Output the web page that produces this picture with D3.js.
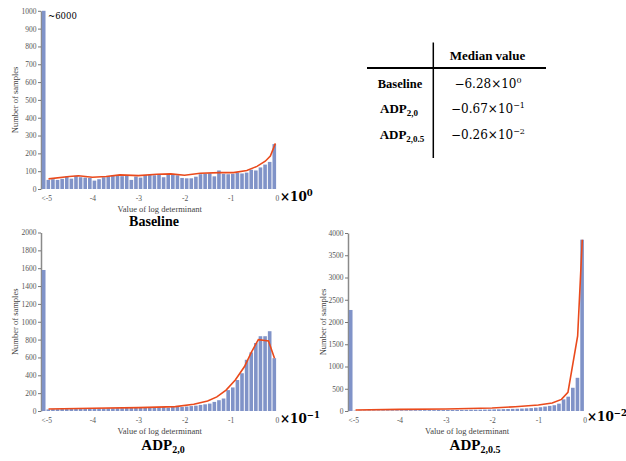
<!DOCTYPE html>
<html><head><meta charset="utf-8">
<script src="https://cdn.jsdelivr.net/npm/d3@7"></script>
<style>body{margin:0;background:#fff}svg{display:block}</style>
</head><body><svg id="c" width="626" height="461"></svg>
<script>
// ---------- data ----------
const binWidth = 0.1;
const xTickValues = [-5, -4, -3, -2, -1, 0];
const xTickLabels = ["<-5", "-4", "-3", "-2", "-1", "0"];

const baselineOverflow = 6000;
const baselineBars = [51,55,51,57,70,58,74,66,64,62, 47,55,66,72,75,74,72,75,51,70,
                      64,79,79,77,79,66,83,79,77,62, 60,60,69,83,85,88,71,104,85,83,
                      85,92,87,92,108,104,121,137,152,252];
const baselineLineX = [-4.95,-4.5,-4.3,-4.0,-3.7,-3.4,-3.0,-2.6,-2.3,-2.0,-1.66,-1.23,-0.94,-0.65,-0.43,-0.25,-0.14,-0.03];
const baselineLineY = [57,70,74,66,70,79,75,83,85,77,88,92,92,104,127,156,185,256];
const baselineYTicks = [0,100,200,300,400,500,600,700,800,900,1000];

const adp20Overflow = 1580;
const adp20Bars = [18,20,20,22,22,24,24,25,26,27, 27,28,28,30,30,32,32,34,34,36,
                   36,38,40,40,42,45,38,47,50,45, 50,55,60,68,75,83,102,121,140,234,
                   264,347,423,574,657,762,838,838,894,592];
const adp20LineX = [-4.95,-4.0,-3.0,-2.2,-1.8,-1.5,-1.3,-1.1,-0.9,-0.7,-0.55,-0.4,-0.18,-0.05];
const adp20LineY = [23,30,38,49,75,113,158,234,347,498,660,800,785,592];
const adp20YTicks = [0,200,400,600,800,1000,1200,1400,1600,1800,2000];

const adp205Overflow = 2270;
const adp205Bars = [8,10,10,12,12,12,14,14,15,15, 16,16,17,18,18,18,20,20,22,22,
                    22,24,24,25,26,28,28,30,32,34, 36,38,42,45,48,50,55,60,65,75,
                    85,100,115,130,165,262,322,522,746,3850];
const adp205LineX = [-4.95,-4.0,-3.0,-2.0,-1.5,-1.0,-0.7,-0.5,-0.36,-0.15,-0.05];
const adp205LineY = [22,37,45,67,97,134,179,261,420,1690,3850];
const adp205YTicks = [0,500,1000,1500,2000,2500,3000,3500,4000];

const tableHeader = "Median value";
const tableRows = [
  {name: "Baseline", sub: "", mant: "\u22126.28\u00d710", exp: "0"},
  {name: "ADP", sub: "2,0", mant: "\u22120.67\u00d710", exp: "\u22121"},
  {name: "ADP", sub: "2,0.5", mant: "\u22120.26\u00d710", exp: "\u22122"}
];

// ---------- drawing ----------
const svg = d3.select("#c");
const barColor = "#8093c8";
const lineColor = "#ea4a1c";
const serif = "'Liberation Serif','Times New Roman',serif";
const mathFont = "'DejaVu Serif',serif";

const panels = [
  {bars: baselineBars, overflow: baselineOverflow, lx: baselineLineX, ly: baselineLineY, ticks: baselineYTicks,
   yMax: 1000, x0: 41.6, x1: 276.8, yTop: 10.8, yBot: 189, titleX: 154, titleY: 226, title: "Baseline", titleSub: "",
   expX: 280, expY: 201, exp: "0", ylabX: 15, note: "~6000"},
  {bars: adp20Bars, overflow: adp20Overflow, lx: adp20LineX, ly: adp20LineY, ticks: adp20YTicks,
   yMax: 2000, x0: 41.6, x1: 276.8, yTop: 232.5, yBot: 411, titleX: 163, titleY: 449.5, title: "ADP", titleSub: "2,0",
   expX: 280, expY: 423, exp: "\u22121", ylabX: 15},
  {bars: adp205Bars, overflow: adp205Overflow, lx: adp205LineX, ly: adp205LineY, ticks: adp205YTicks,
   yMax: 4000, x0: 348.6, x1: 584.6, yTop: 233, yBot: 411, titleX: 475, titleY: 449.5, title: "ADP", titleSub: "2,0.5",
   expX: 587, expY: 421, exp: "\u22122", ylabX: 323}
];

panels.forEach(p => {
  const x = d3.scaleLinear().domain([-5 - binWidth, 0]).range([p.x0, p.x1]);
  const y = d3.scaleLinear().domain([0, p.yMax]).range([p.yBot, p.yTop]);
  const g = svg.append("g");

  // y axis
  const ya = g.append("g").attr("transform", `translate(${p.x0 - 0.6},0)`)
    .call(d3.axisLeft(y).tickValues(p.ticks).tickFormat(d3.format("d")).tickSize(3).tickSizeOuter(0).tickPadding(1.5));
  ya.select(".domain").attr("stroke", "#8a8a8a").attr("stroke-width", 1.5);
  ya.selectAll(".tick line").attr("stroke", "#555").attr("stroke-width", 0.8);
  ya.selectAll(".tick text").attr("font-family", serif).attr("font-size", 7.5).attr("fill", "#555");

  // bars
  const data = [{s: -5 - binWidth, v: Math.min(p.overflow, p.yMax)}]
    .concat(p.bars.map((v, i) => ({s: -5 + i * binWidth, v})));
  g.selectAll("rect.bar").data(data).enter().append("rect")
    .attr("x", d => x(d.s) + 0.3)
    .attr("width", d => x(d.s + binWidth) - x(d.s) - 1.0)
    .attr("y", d => y(d.v))
    .attr("height", d => y(0) - y(d.v))
    .attr("fill", barColor);

  // x axis labels
  const xa = g.append("g").attr("transform", `translate(0,${p.yBot})`)
    .call(d3.axisBottom(x).tickValues(xTickValues).tickSize(0).tickPadding(7)
      .tickFormat((d, i) => xTickLabels[i]));
  xa.select(".domain").remove();
  xa.selectAll(".tick text").attr("font-family", serif).attr("font-size", 7.5).attr("fill", "#555");

  // red line
  const pts = p.lx.map((v, i) => [v, p.ly[i]]);
  g.append("path").datum(pts)
    .attr("d", d3.line().x(d => x(d[0])).y(d => y(d[1])))
    .attr("fill", "none").attr("stroke", lineColor).attr("stroke-width", 1.6);

  // axis titles
  g.append("text").attr("x", (p.x0 + p.x1) / 2 + 0.5).attr("y", p.yBot + 22.5)
    .attr("text-anchor", "middle").attr("font-family", serif).attr("font-size", 8.5).attr("fill", "#444")
    .text("Value of log determinant");
  g.append("text").attr("transform", `translate(${p.ylabX + 3},${(p.yTop + p.yBot) / 2}) rotate(-90)`)
    .attr("text-anchor", "middle").attr("font-family", serif).attr("font-size", 8.5).attr("fill", "#444")
    .text("Number of samples");

  // exponent label
  const e = g.append("text").attr("x", p.expX).attr("y", p.expY)
    .attr("font-family", mathFont).attr("font-weight", "bold").attr("font-size", 12).attr("fill", "#000");
  e.append("tspan").text("\u00d710");
  e.append("tspan").attr("dy", -5).attr("font-size", 8.5).text(p.exp);

  // title
  const t = g.append("text").attr("x", p.titleX).attr("y", p.titleY).attr("text-anchor", "middle")
    .attr("font-family", serif).attr("font-weight", "bold").attr("font-size", p.titleSub ? 15 : 14).attr("fill", "#000");
  t.append("tspan").text(p.title);
  if (p.titleSub) t.append("tspan").attr("dy", 3).attr("font-size", 10).text(p.titleSub);

  if (p.note) {
    g.append("text").attr("x", x(-5 - binWidth) + 6.5).attr("y", p.yTop + 8.5)
      .attr("font-family", mathFont).attr("font-size", 8.5).attr("fill", "#000").text(p.note);
  }
});

// ---------- table ----------
const tb = svg.append("g");
tb.append("line").attr("x1", 433.3).attr("x2", 433.3).attr("y1", 42.5).attr("y2", 158)
  .attr("stroke", "#000").attr("stroke-width", 1.5);
tb.append("line").attr("x1", 367).attr("x2", 546).attr("y1", 68).attr("y2", 68)
  .attr("stroke", "#000").attr("stroke-width", 1.8);
tb.append("text").attr("x", 487.5).attr("y", 60).attr("text-anchor", "middle")
  .attr("font-family", serif).attr("font-weight", "bold").attr("font-size", 13).text(tableHeader);
const rowY = [88, 113, 139];
const rowX = [400, 399, 402];
tableRows.forEach((r, i) => {
  const t = tb.append("text").attr("x", rowX[i]).attr("y", rowY[i]).attr("text-anchor", "middle")
    .attr("font-family", serif).attr("font-weight", "bold").attr("font-size", r.sub ? 13 : 12.5);
  t.append("tspan").text(r.name);
  if (r.sub) t.append("tspan").attr("dy", 2.5).attr("font-size", 9).text(r.sub);
  const v = tb.append("text").attr("x", 488).attr("y", rowY[i]).attr("text-anchor", "middle")
    .attr("font-family", mathFont).attr("font-size", 12);
  v.append("tspan").text(r.mant);
  v.append("tspan").attr("dy", -5).attr("font-size", 8).text(r.exp);
});
</script>
</body></html>
